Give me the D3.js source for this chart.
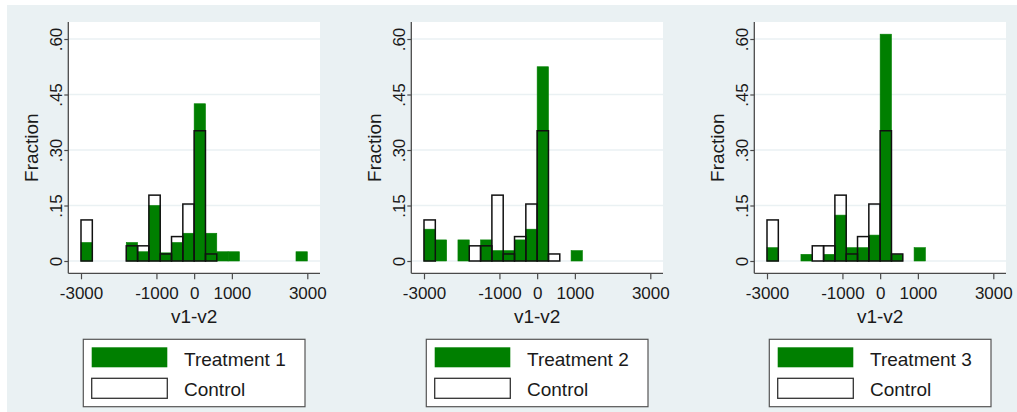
<!DOCTYPE html>
<html>
<head>
<meta charset="utf-8">
<script src="https://cdn.jsdelivr.net/npm/d3@7"></script>
<style>
  html, body { margin: 0; padding: 0; background: #ffffff; }
  svg { display: block; }
  text { font-family: "Liberation Sans", Arial, Helvetica, sans-serif; fill: #1a1a1a; }
</style>
</head>
<body>
<svg id="chart" width="1017" height="412"></svg>
<script>
// ---------------- data ----------------
const binStarts = [-3000, -2700, -2400, -2100, -1800, -1500, -1200, -900, -600, -300,
                   0, 300, 600, 900, 1200, 1500, 1800, 2100, 2400, 2700];
const binWidth = 300;

const treatment1 = [0.050, 0, 0, 0, 0.050, 0.025, 0.150, 0.022, 0.050, 0.075,
                    0.425, 0.075, 0.025, 0.025, 0, 0, 0, 0, 0, 0.025];
const treatment2 = [0.086, 0.057, 0, 0.057, 0, 0.057, 0.028, 0.028, 0.057, 0.086,
                    0.525, 0, 0, 0.028, 0, 0, 0, 0, 0, 0];
const treatment3 = [0.036, 0, 0, 0.018, 0, 0.018, 0.124, 0.036, 0.036, 0.070,
                    0.613, 0.018, 0, 0.036, 0, 0, 0, 0, 0, 0];
const control    = [0.111, 0, 0, 0, 0.041, 0.041, 0.178, 0.019, 0.066, 0.154,
                    0.352, 0.019, 0, 0, 0, 0, 0, 0, 0, 0];

const treatmentNames = ["Treatment 1", "Treatment 2", "Treatment 3"];
const treatmentSeries = [treatment1, treatment2, treatment3];
const controlName = "Control";

const xTicks = [-3000, -1000, 0, 1000, 3000];
const yTicks = [0, 0.15, 0.30, 0.45, 0.60];
const yTickLabels = ["0", ".15", ".30", ".45", ".60"];
const xTitle = "v1-v2";
const yTitle = "Fraction";

// ---------------- styles / layout ----------------
const BG = "#eaf1f3";
const GREEN = "#007f00";
const AXIS = "#4a4a4a";
const panelOffsets = [0, 343, 686];

const svg = d3.select("#chart");
svg.append("rect").attr("x", 7).attr("y", 5).attr("width", 1010).attr("height", 407).attr("fill", BG);

panelOffsets.forEach((dx, p) => {
  const g = svg.append("g").attr("transform", `translate(${dx},0)`);
  const plotL = 68.3, plotR = 320, plotT = 22, plotB = 273.3;

  const x = d3.scaleLinear().domain([-3000, 3000]).range([81, 307.3]);
  const y = d3.scaleLinear().domain([0, 0.6]).range([261, 39]);

  // plot region
  g.append("rect").attr("x", plotL).attr("y", plotT)
    .attr("width", plotR - plotL).attr("height", plotB - plotT).attr("fill", "#ffffff");

  // gridlines
  g.selectAll("line.grid").data(yTicks).join("line")
    .attr("class", "grid")
    .attr("x1", plotL).attr("x2", plotR)
    .attr("y1", d => y(d)).attr("y2", d => y(d))
    .attr("stroke", BG).attr("stroke-width", 1.4);

  // treatment bars
  const tr = treatmentSeries[p];
  g.selectAll("rect.tr").data(binStarts.map((b, i) => ({b, v: tr[i]})).filter(d => d.v > 0)).join("rect")
    .attr("class", "tr")
    .attr("x", d => x(d.b)).attr("width", d => x(d.b + binWidth) - x(d.b))
    .attr("y", d => y(d.v)).attr("height", d => y(0) - y(d.v))
    .attr("fill", GREEN).attr("stroke", GREEN).attr("stroke-width", 0.6);

  // control bars (outline)
  g.selectAll("rect.ct").data(binStarts.map((b, i) => ({b, v: control[i]})).filter(d => d.v > 0)).join("rect")
    .attr("class", "ct")
    .attr("x", d => x(d.b)).attr("width", d => x(d.b + binWidth) - x(d.b))
    .attr("y", d => y(d.v)).attr("height", d => y(0) - y(d.v))
    .attr("fill", "none").attr("stroke", "#111").attr("stroke-width", 1.5);

  // x axis
  const xa = g.append("g").attr("transform", `translate(0,${plotB})`)
    .call(d3.axisBottom(x).tickValues(xTicks).tickFormat(d3.format("d")).tickSize(6).tickPadding(5));
  xa.select(".domain").remove();
  xa.selectAll(".tick line").attr("stroke", AXIS).attr("stroke-width", 1.2);
  xa.selectAll(".tick text").attr("font-size", 17).attr("fill", "#1a1a1a")
    .attr("y", null).attr("dy", null).attr("transform", "translate(0,26)");
  xa.selectAll(".tick text").text(d => d < 0 ? "-" + Math.abs(d) : String(d));
  g.append("line").attr("x1", plotL).attr("x2", plotR).attr("y1", plotB).attr("y2", plotB)
    .attr("stroke", AXIS).attr("stroke-width", 1.3);

  // y axis
  const ya = g.append("g").attr("transform", `translate(${plotL},0)`)
    .call(d3.axisLeft(y).tickValues(yTicks).tickFormat((d, i) => yTickLabels[i]).tickSize(4));
  ya.select(".domain").remove();
  ya.selectAll(".tick line").attr("stroke", AXIS).attr("stroke-width", 1.2);
  ya.selectAll(".tick text").attr("font-size", 17).attr("fill", "#1a1a1a")
    .attr("x", null).attr("dy", null)
    .attr("text-anchor", "middle")
    .attr("transform", "translate(-6.3,0) rotate(-90)");
  g.append("line").attr("x1", plotL).attr("x2", plotL).attr("y1", plotT).attr("y2", plotB)
    .attr("stroke", AXIS).attr("stroke-width", 1.3);

  // axis titles
  g.append("text").attr("x", (plotL + plotR) / 2).attr("y", 323)
    .attr("text-anchor", "middle").attr("font-size", 19).text(xTitle);
  g.append("text").attr("transform", `translate(38,${(plotT + plotB) / 2}) rotate(-90)`)
    .attr("text-anchor", "middle").attr("font-size", 19).text(yTitle);

  // legend
  const lx = x(-3000) + 2.3, lw = (x(3000) - 2.3) - lx;
  const lg = g.append("g");
  lg.append("rect").attr("x", lx).attr("y", 339.3).attr("width", lw).attr("height", 67.4)
    .attr("fill", "#ffffff").attr("stroke", "#555").attr("stroke-width", 1.2);
  lg.append("rect").attr("x", lx + 8.4).attr("y", 347.3).attr("width", 75.6).attr("height", 20)
    .attr("fill", GREEN);
  lg.append("rect").attr("x", lx + 8.4).attr("y", 378.3).attr("width", 75.6).attr("height", 20)
    .attr("fill", "#ffffff").attr("stroke", "#333").attr("stroke-width", 1.3);
  lg.append("text").attr("x", lx + 100.7).attr("y", 365.5).attr("font-size", 19).text(treatmentNames[p]);
  lg.append("text").attr("x", lx + 100.7).attr("y", 396.3).attr("font-size", 19).text(controlName);
});
</script>
</body>
</html>
